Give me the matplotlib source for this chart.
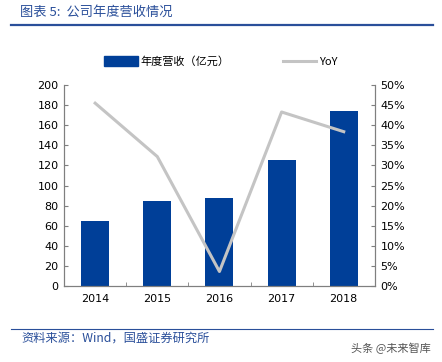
import matplotlib.pyplot as plt
import numpy as np
from matplotlib.lines import Line2D
from matplotlib.patches import Patch

plt.rcParams['font.family'] = ['DejaVu Sans', 'Noto Sans CJK SC']

years = ['2014', '2015', '2016', '2017', '2018']
revenue = [65, 85, 88, 125.5, 174]
yoy = [45.5, 32.2, 3.6, 43.3, 38.4]

bar_color = '#003f98'
line_color = '#c4c4c4'
title_color = '#2a4f9a'
spine_color = '#7f7f7f'
cjk = ['Noto Sans CJK SC', 'DejaVu Sans']

fig = plt.figure(figsize=(4.42, 3.62), dpi=100)
ax = fig.add_axes([0.145, 0.21, 0.703, 0.555])
x = np.arange(len(years))
ax.bar(x, revenue, width=0.45, color=bar_color, zorder=2)
ax.set_ylim(0, 200)
ax.set_yticks(range(0, 201, 20))
ax.set_xlim(-0.5, len(years) - 0.5)
ax.set_xticks(x)
ax.set_xticklabels(years)
ax.set_xticks(np.arange(0.5, len(years) - 1, 1), minor=True)
ax.tick_params(axis='x', which='major', length=0, pad=6, labelsize=8)
ax.tick_params(axis='x', which='minor', length=3, direction='in', color=spine_color)
ax.tick_params(axis='y', length=3, direction='in', color=spine_color, labelsize=8, pad=4)

ax2 = ax.twinx()
ax2.plot(x, yoy, color=line_color, lw=2.2, zorder=3)
ax2.set_ylim(0, 50)
ax2.set_yticks(range(0, 51, 5))
ax2.set_yticklabels([f'{v}%' for v in range(0, 51, 5)])
ax2.tick_params(axis='y', length=3, direction='in', color=spine_color, labelsize=8, pad=4)

for a in (ax, ax2):
    a.spines['top'].set_visible(False)
    for s in ('left', 'right', 'bottom'):
        a.spines[s].set_color(spine_color)

handles = [Patch(color=bar_color), Line2D([0], [0], color=line_color, lw=2.2)]
fig.legend(handles, ['年度营收（亿元）', 'YoY'], loc='center', bbox_to_anchor=(0.5, 0.83),
           ncol=2, frameon=False, prop={'family': cjk, 'size': 8},
           handlelength=3.0, handleheight=1.0, columnspacing=4.8, handletextpad=0.25)

fig.text(0.045, 0.965, '图表 5:  公司年度营收情况', color=title_color, fontsize=9.5,
         style='italic', va='center', ha='left', family=cjk)
fig.add_artist(Line2D([0.025, 0.98], [0.93, 0.93], color='#2a4f9a', lw=1.6))
fig.add_artist(Line2D([0.025, 0.98], [0.092, 0.092], color='#2a4f9a', lw=0.8))
fig.text(0.048, 0.066, '资料来源：Wind，国盛证券研究所', color=title_color, fontsize=8.8,
         style='italic', va='center', ha='left', family=cjk)
fig.text(0.975, 0.037, '头条 @未来智库', color='#555555', fontsize=8, va='center',
         ha='right', family=cjk)

fig.savefig('out.png', dpi=100)
